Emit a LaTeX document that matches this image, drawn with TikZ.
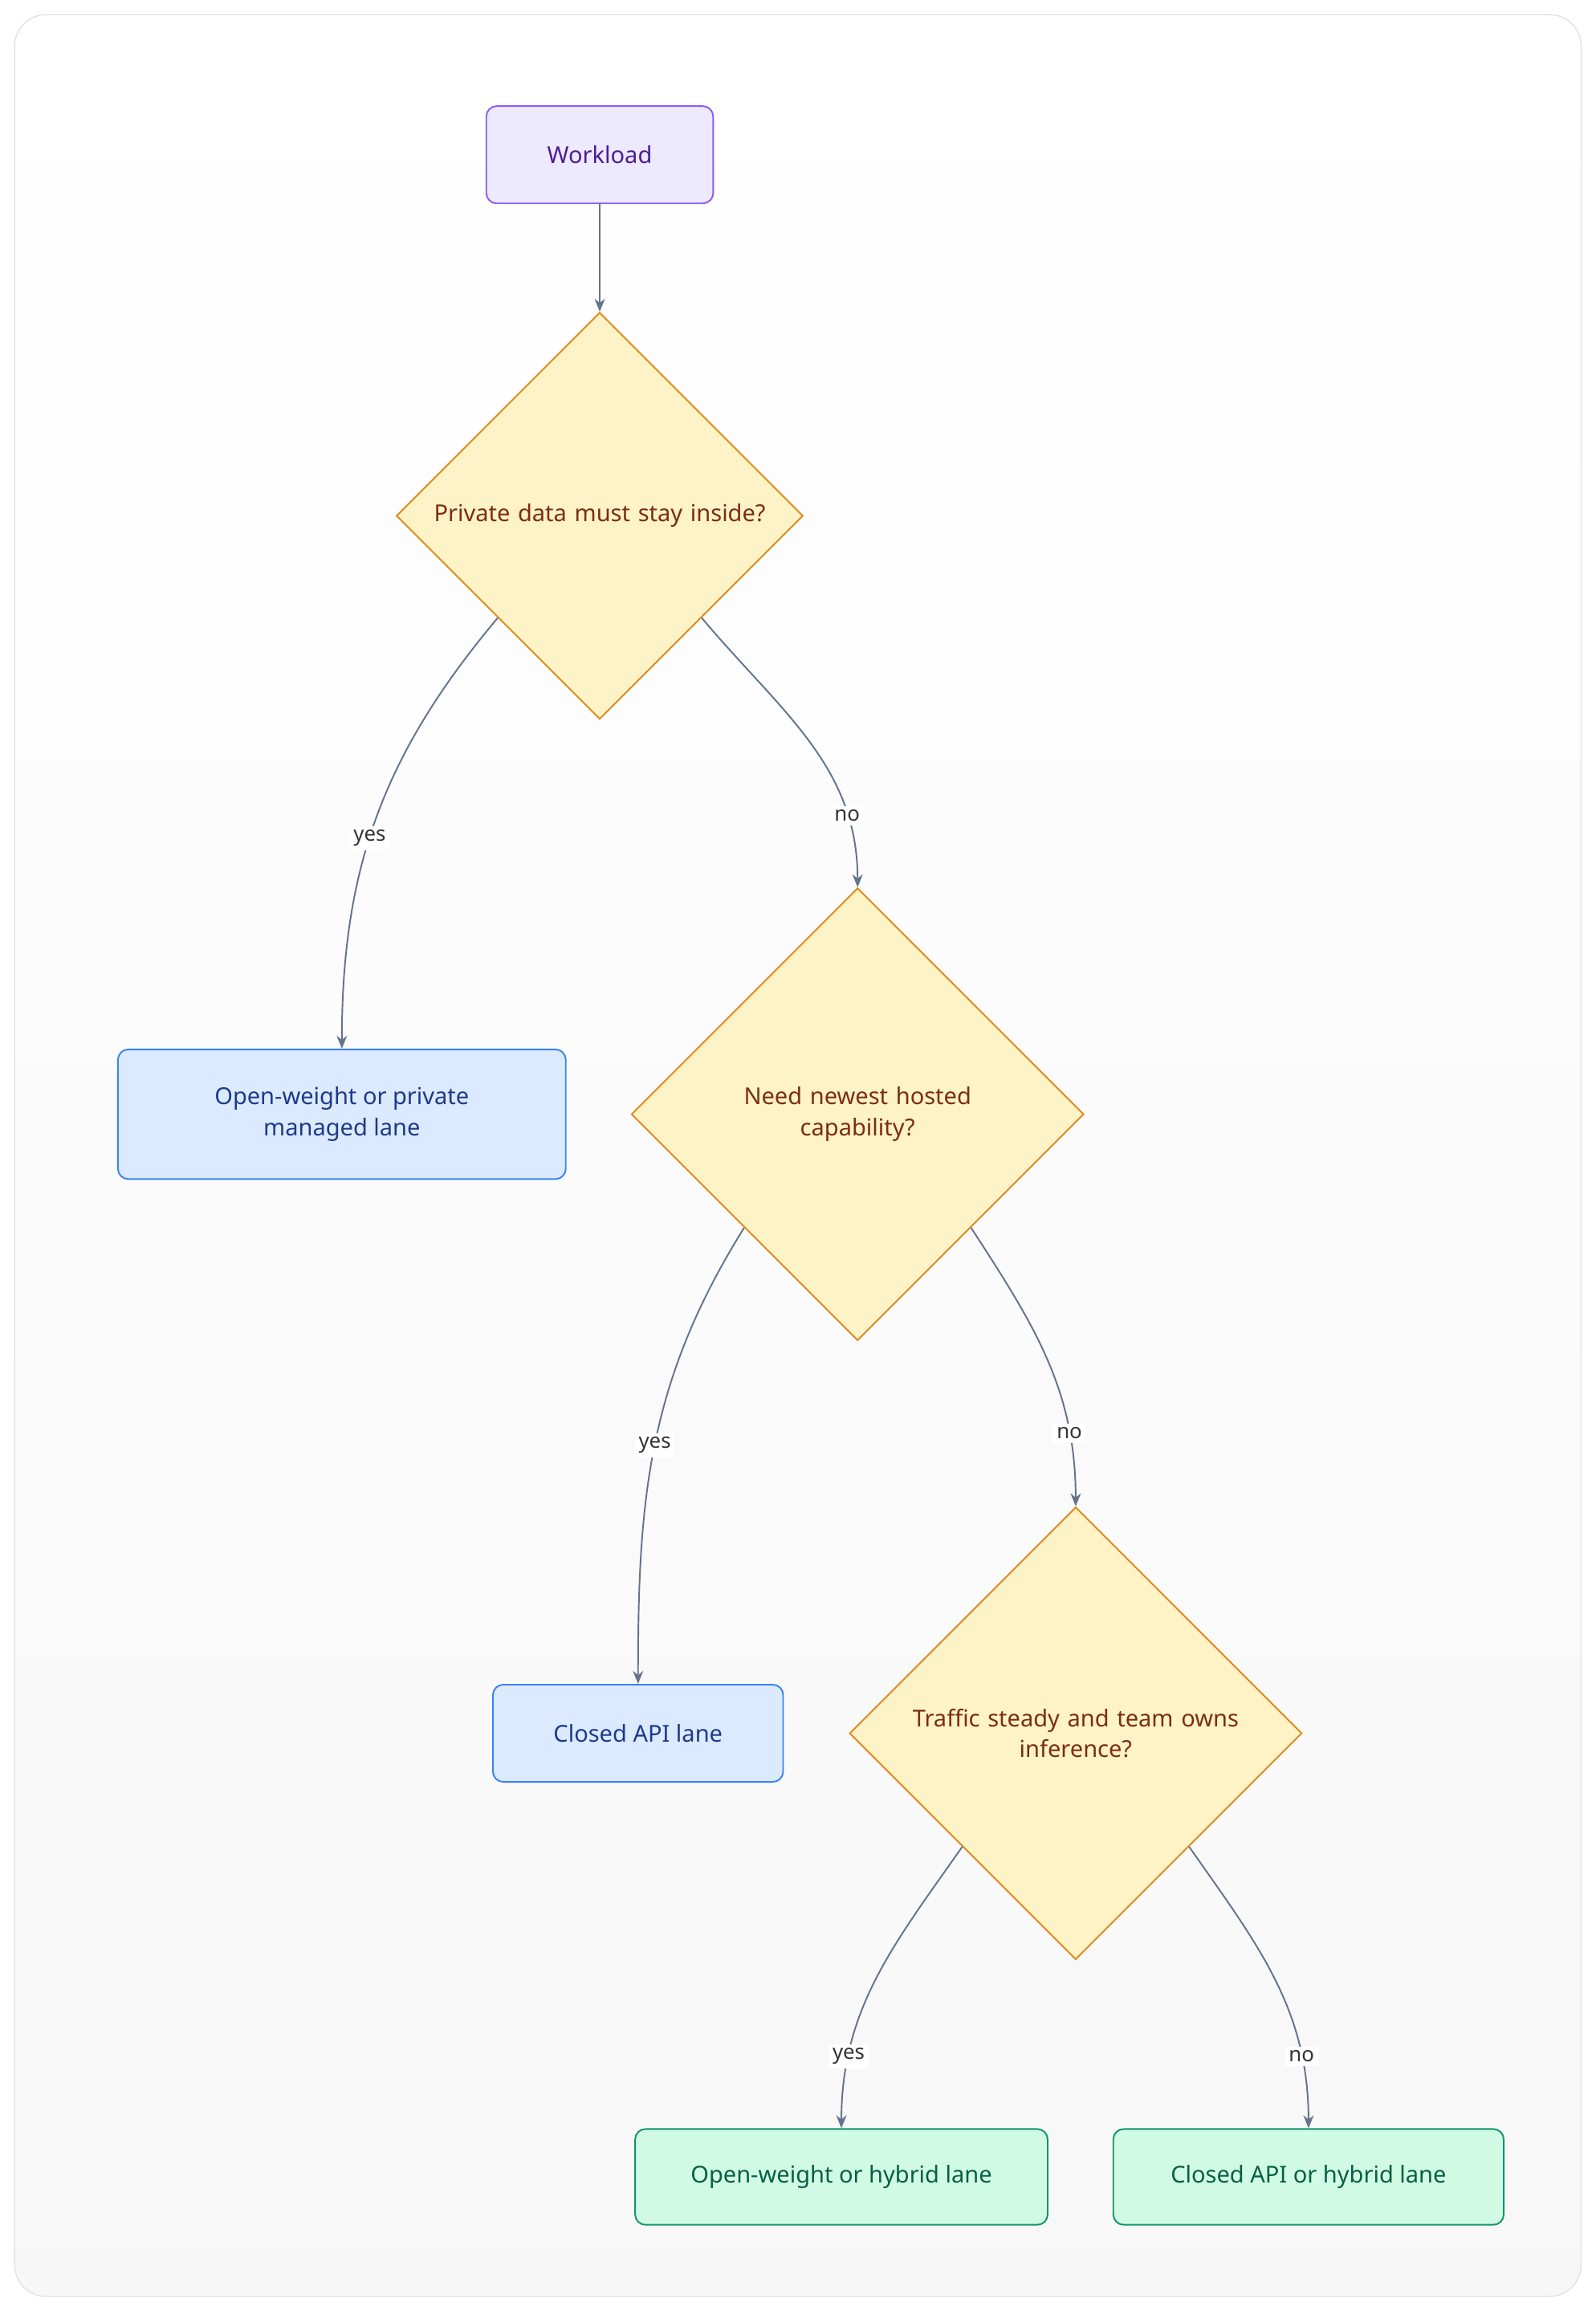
\documentclass[tikz,border=0pt]{standalone}
\usepackage{fontspec}
\setmainfont{Noto Sans}
\usetikzlibrary{shapes.geometric,arrows.meta}
\definecolor{edgegray}{HTML}{64748B}
\definecolor{startfill}{HTML}{EDE9FE}
\definecolor{startline}{HTML}{8B5CF6}
\definecolor{starttext}{HTML}{4C1D95}
\definecolor{askfill}{HTML}{FEF3C7}
\definecolor{askline}{HTML}{E08A1E}
\definecolor{asktext}{HTML}{7C2D12}
\definecolor{lanefill}{HTML}{DBEAFE}
\definecolor{laneline}{HTML}{3B82F6}
\definecolor{lanetext}{HTML}{1E3A8A}
\definecolor{mixfill}{HTML}{D1FAE5}
\definecolor{mixline}{HTML}{10946B}
\definecolor{mixtext}{HTML}{065F46}
\tikzset{
  box/.style={rectangle, rounded corners=4pt, draw, line width=0.6pt, align=center,
    font=\fontsize{9}{12}\selectfont, inner sep=0pt},
  start/.style={box, fill=startfill, draw=startline, text=starttext},
  lane/.style={box, fill=lanefill, draw=laneline, text=lanetext},
  mix/.style={box, fill=mixfill, draw=mixline, text=mixtext},
  ask/.style={diamond, draw=askline, fill=askfill, text=asktext, line width=0.6pt,
    align=center, inner sep=0pt, font=\fontsize{9}{12}\selectfont},
  link/.style={draw=edgegray, line width=0.6pt, -{Stealth[length=5pt,width=4pt]}},
  tag/.style={fill=white, inner sep=1.5pt, text=black!80, font=\fontsize{8}{10}\selectfont}
}
\begin{document}
\begin{tikzpicture}[x=0.02cm, y=-0.02cm]
    % Background panel
    \useasboundingbox (0,0) rectangle (1083,1568);
    \draw[draw=black!12, top color=white, bottom color=black!3, rounded corners=12pt]
      (10,10) rectangle (1073,1558);

    % Nodes
    \node[start, minimum width=3.08cm, minimum height=1.32cm] (load) at (407,105) {Workload};
    \node[ask, minimum width=5.52cm, minimum height=5.52cm, text width=4.6cm] (priv) at (407,350) {Private data must stay inside?};
    \node[lane, minimum width=6.08cm, minimum height=1.76cm] (owp) at (232,756) {Open-weight or private\\managed lane};
    \node[ask, minimum width=6.14cm, minimum height=6.14cm, text width=3.4cm] (newest) at (582,756) {Need newest hosted\\capability?};
    \node[lane, minimum width=3.94cm, minimum height=1.32cm] (capi) at (433,1176) {Closed API lane};
    \node[ask, minimum width=6.14cm, minimum height=6.14cm, text width=4.6cm] (steady) at (730,1176) {Traffic steady and team owns\\inference?};
    \node[mix, minimum width=5.6cm, minimum height=1.3cm] (owh) at (571,1477) {Open-weight or hybrid lane};
    \node[mix, minimum width=5.3cm, minimum height=1.3cm] (cah) at (888,1477) {Closed API or hybrid lane};

    % Connectors
    \draw[link] (load) -- (priv.north);
    \draw[link] (priv.south west) to[out=-130, in=90] node[tag, pos=0.55] {yes} (owp.north);
    \draw[link] (priv.south east) to[out=-50, in=90] node[tag, pos=0.78] {no} (newest.north);
    \draw[link] (newest.south west) to[out=-122, in=90] node[tag, pos=0.5] {yes} (capi.north);
    \draw[link] (newest.south east) to[out=-57, in=90] node[tag, pos=0.77] {no} (steady.north);
    \draw[link] (steady.south west) to[out=-125, in=90] node[tag, pos=0.78] {yes} (owh.north);
    \draw[link] (steady.south east) to[out=-55, in=90] node[tag, pos=0.78] {no} (cah.north);
\end{tikzpicture}
\end{document}
